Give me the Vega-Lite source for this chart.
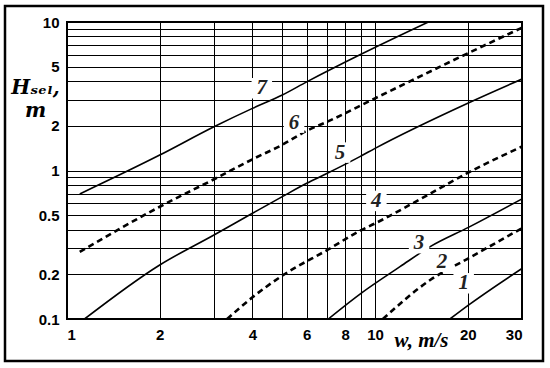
{
  "$schema": "https://vega.github.io/schema/vega-lite/v6.json",
  "width": 455,
  "height": 297,
  "autosize": {"type": "none"},
  "padding": {"left": 67, "top": 22, "right": 28, "bottom": 49},
  "background": "white",
  "config": {
    "view": {"stroke": "black", "strokeWidth": 2},
    "axis": {
      "grid": true,
      "gridColor": "black",
      "gridOpacity": 1,
      "gridWidth": 1,
      "domain": false,
      "ticks": false,
      "labelFont": "Liberation Sans",
      "labelFontWeight": "bold",
      "labelFontSize": 15,
      "labelColor": "black",
      "titleColor": "black"
    }
  },
  "datasets": {
    "curves": [
      {"curve": 7, "w": 1.1, "h": 0.695},
      {"curve": 7, "w": 2, "h": 1.27},
      {"curve": 7, "w": 3, "h": 1.97},
      {"curve": 7, "w": 4, "h": 2.62},
      {"curve": 7, "w": 5, "h": 3.22},
      {"curve": 7, "w": 6, "h": 3.95},
      {"curve": 7, "w": 9, "h": 6.06},
      {"curve": 7, "w": 14.9, "h": 10},
      {"curve": 6, "w": 1.1, "h": 0.283},
      {"curve": 6, "w": 2, "h": 0.57},
      {"curve": 6, "w": 3, "h": 0.873},
      {"curve": 6, "w": 4, "h": 1.19},
      {"curve": 6, "w": 5, "h": 1.49},
      {"curve": 6, "w": 6, "h": 1.85},
      {"curve": 6, "w": 7, "h": 2.13},
      {"curve": 6, "w": 10, "h": 3.06},
      {"curve": 6, "w": 20, "h": 6.15},
      {"curve": 6, "w": 30, "h": 9.16},
      {"curve": 5, "w": 1.14, "h": 0.1},
      {"curve": 5, "w": 2, "h": 0.231},
      {"curve": 5, "w": 3, "h": 0.368},
      {"curve": 5, "w": 4, "h": 0.515},
      {"curve": 5, "w": 5, "h": 0.667},
      {"curve": 5, "w": 6, "h": 0.82},
      {"curve": 5, "w": 7, "h": 0.958},
      {"curve": 5, "w": 8.93, "h": 1.24},
      {"curve": 5, "w": 10, "h": 1.41},
      {"curve": 5, "w": 20, "h": 2.84},
      {"curve": 5, "w": 30, "h": 4.13},
      {"curve": 4, "w": 3.31, "h": 0.1},
      {"curve": 4, "w": 4, "h": 0.14},
      {"curve": 4, "w": 5.04, "h": 0.198},
      {"curve": 4, "w": 7.05, "h": 0.294},
      {"curve": 4, "w": 8.94, "h": 0.393},
      {"curve": 4, "w": 10, "h": 0.44},
      {"curve": 4, "w": 14, "h": 0.64},
      {"curve": 4, "w": 20.3, "h": 0.98},
      {"curve": 4, "w": 30, "h": 1.45},
      {"curve": 3, "w": 7.05, "h": 0.1},
      {"curve": 3, "w": 9.05, "h": 0.15},
      {"curve": 3, "w": 12.05, "h": 0.225},
      {"curve": 3, "w": 15.1, "h": 0.307},
      {"curve": 3, "w": 20.1, "h": 0.414},
      {"curve": 3, "w": 30, "h": 0.644},
      {"curve": 2, "w": 10.6, "h": 0.1},
      {"curve": 2, "w": 15.1, "h": 0.183},
      {"curve": 2, "w": 20.1, "h": 0.256},
      {"curve": 2, "w": 30, "h": 0.409},
      {"curve": 1, "w": 17.5, "h": 0.1},
      {"curve": 1, "w": 20.1, "h": 0.124},
      {"curve": 1, "w": 30, "h": 0.219}
    ],
    "labels": [
      {"label": "7", "w": 4.29, "h": 3.58},
      {"label": "6", "w": 5.46, "h": 2.1},
      {"label": "5", "w": 7.7, "h": 1.32},
      {"label": "4", "w": 10.1, "h": 0.624},
      {"label": "3", "w": 13.9, "h": 0.324},
      {"label": "2", "w": 16.5, "h": 0.243},
      {"label": "1", "w": 19.4, "h": 0.174}
    ]
  },
  "layer": [
    {
      "data": {"values": [{}]},
      "mark": {"type": "rect", "fill": null, "stroke": "black", "strokeWidth": 2.5, "clip": false},
      "encoding": {
        "x": {"value": -62},
        "x2": {"value": 476},
        "y": {"value": -16},
        "y2": {"value": 339}
      }
    },
    {
      "data": {"name": "curves"},
      "transform": [{"filter": "datum.curve % 2 == 1"}],
      "mark": {"type": "line", "color": "black", "strokeWidth": 1.6, "clip": true, "interpolate": "monotone"},
      "encoding": {
        "x": {
          "field": "w", "type": "quantitative",
          "scale": {"type": "log", "domain": [1, 30], "nice": false},
          "axis": {
            "values": [1, 2, 3, 4, 5, 6, 7, 8, 9, 10, 20, 30],
            "format": "~g",
            "labelExpr": "indexof(['1','2','4','6','8','10','20','30'], datum.label) >= 0 ? datum.label : ''",
            "labelPadding": 8,
            "labelOverlap": false,
            "title": "w, m/s",
            "titleFont": "Liberation Serif",
            "titleFontStyle": "italic",
            "titleFontWeight": "bold",
            "titleFontSize": 21,
            "titleX": 354,
            "titleY": 27,
            "titleAlign": "center",
            "titleBaseline": "alphabetic"
          }
        },
        "y": {
          "field": "h", "type": "quantitative",
          "scale": {"type": "log", "domain": [0.1, 10], "nice": false},
          "axis": {
            "values": [0.1, 0.2, 0.3, 0.4, 0.5, 0.6, 0.7, 0.8, 0.9, 1, 2, 3, 4, 5, 6, 7, 8, 9, 10],
            "format": "~g",
            "labelExpr": "indexof(['0.1','0.2','0.5','1','2','5','10'], datum.label) >= 0 ? datum.label : ''",
            "labelPadding": 8,
            "labelOverlap": false,
            "title": ["Hₛₑₗ,", "m"],
            "titleFont": "DejaVu Serif",
            "titleFontStyle": "italic",
            "titleFontWeight": "bold",
            "titleFontSize": 20,
            "titleAngle": 0,
            "titleAlign": "center",
            "titleBaseline": "alphabetic",
            "titleLineHeight": 23,
            "titleX": -32,
            "titleY": 71
          }
        },
        "detail": {"field": "curve", "type": "nominal"}
      }
    },
    {
      "data": {"name": "curves"},
      "transform": [{"filter": "datum.curve % 2 == 0"}],
      "mark": {"type": "line", "color": "black", "strokeWidth": 2.6, "strokeDash": [6, 4], "clip": true, "interpolate": "monotone"},
      "encoding": {
        "x": {"field": "w", "type": "quantitative"},
        "y": {"field": "h", "type": "quantitative"},
        "detail": {"field": "curve", "type": "nominal"}
      }
    },
    {
      "data": {"name": "labels"},
      "mark": {"type": "point", "shape": "square", "size": 420, "filled": true, "fill": "white", "opacity": 1, "strokeWidth": 0},
      "encoding": {
        "x": {"field": "w", "type": "quantitative"},
        "y": {"field": "h", "type": "quantitative"}
      }
    },
    {
      "data": {"name": "labels"},
      "mark": {"type": "text", "font": "Liberation Serif", "fontStyle": "italic", "fontWeight": "bold", "fontSize": 21, "color": "#222", "baseline": "middle", "align": "center"},
      "encoding": {
        "x": {"field": "w", "type": "quantitative"},
        "y": {"field": "h", "type": "quantitative"},
        "text": {"field": "label"}
      }
    }
  ]
}
